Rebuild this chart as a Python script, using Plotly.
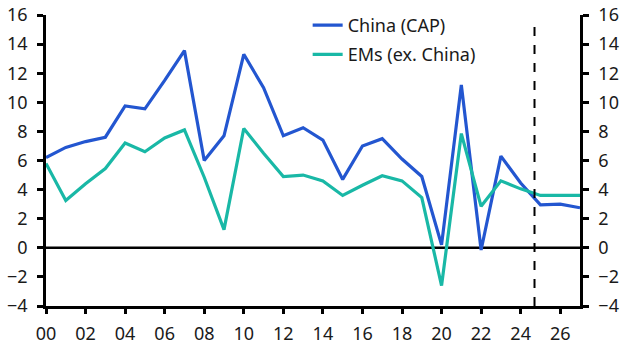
import plotly.graph_objects as go

years = list(range(2000, 2028))
china = [6.2, 6.9, 7.3, 7.6, 9.75, 9.55, 11.5, 13.55, 6.0, 7.7, 13.3, 11.0, 7.7, 8.25,
         7.4, 4.7, 7.0, 7.5, 6.1, 4.9, 0.2, 11.2, -0.15, 6.3, 4.45, 2.95, 3.0, 2.75]
ems = [5.8, 3.25, 4.4, 5.45, 7.2, 6.6, 7.55, 8.1, 4.85, 1.25, 8.2, 6.5, 4.9, 5.0,
       4.6, 3.6, 4.3, 4.95, 4.6, 3.45, -2.6, 7.85, 2.85, 4.6, 4.05, 3.6, 3.6, 3.6]
tick_years = list(range(2000, 2027, 2))
tick_text = ["00", "02", "04", "06", "08", "10", "12", "14", "16", "18", "20", "22", "24", "26"]
y_ticks = list(range(-4, 17, 2))
forecast_start = 2024.7

BLUE = "#2356d0"
TEAL = "#19b8a6"
FONT = "Noto Sans"
TXT = "#1a1a1a"

fig = go.Figure()
fig.add_trace(go.Scatter(x=years, y=china, mode="lines", name="China (CAP)",
                         legendgroup="a", line=dict(color=BLUE, width=3.2)))
fig.add_trace(go.Scatter(x=years, y=ems, mode="lines", name="EMs (ex. China)",
                         legendgroup="b", line=dict(color=TEAL, width=3.2)))
fig.add_trace(go.Scatter(x=years, y=ems, mode="lines", yaxis="y2", opacity=0,
                         showlegend=False, hoverinfo="skip"))

fig.add_shape(type="line", x0=forecast_start, x1=forecast_start, xref="x",
              y0=0, y1=0.985, yref="paper", line=dict(color="black", width=2, dash="dash"))

axis_common = dict(range=[-4, 16], tickvals=y_ticks, showgrid=False, zeroline=False,
                   showline=True, linecolor="black", linewidth=2.5, ticks="outside",
                   ticklen=6, tickwidth=2.5, tickcolor="black", ticklabelstandoff=6,
                   tickfont=dict(family=FONT, size=18, color=TXT))

fig.update_layout(
    width=635, height=362,
    margin=dict(l=46, r=55, t=15, b=56, autoexpand=False),
    paper_bgcolor="white", plot_bgcolor="white",
    font=dict(family=FONT, size=18, color=TXT),
    xaxis=dict(range=[2000, 2027], tickvals=tick_years, ticktext=tick_text,
               showgrid=False, zeroline=False, showline=True, linecolor="black",
               linewidth=2.5, ticks="outside", ticklen=5, tickwidth=2.5, tickcolor="black",
               ticklabelstandoff=5, tickfont=dict(family=FONT, size=18, color=TXT)),
    yaxis=dict(**axis_common, side="left"),
    yaxis2=dict(**axis_common, side="right", overlaying="y"),
    legend=dict(x=0.49, y=1.028, xanchor="left", yanchor="top", bgcolor="rgba(0,0,0,0)",
                traceorder="grouped", tracegroupgap=3,
                font=dict(family=FONT, size=18, color=TXT)),
    showlegend=True,
)
fig.add_hline(y=0, line=dict(color="black", width=2.5), layer="below")

fig.write_html("out.html", config={"displayModeBar": False},
               post_script="document.body.style.margin='0';document.body.style.overflow='hidden';")
